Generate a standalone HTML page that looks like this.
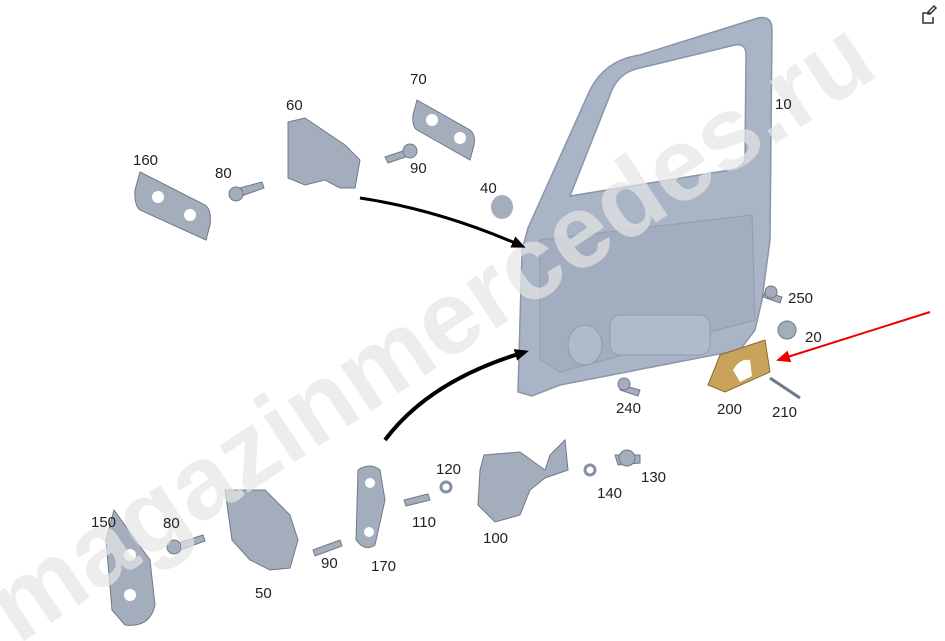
<!DOCTYPE html>
<html><head><meta charset="utf-8"><style>
html,body{margin:0;padding:0;background:#fff;}
svg{display:block}
text{font-family:"Liberation Sans",sans-serif;}
</style></head><body>
<svg width="945" height="641" viewBox="0 0 945 641" xmlns="http://www.w3.org/2000/svg">
<defs>
<marker id="ab" markerWidth="14" markerHeight="12" refX="10" refY="6" orient="auto" markerUnits="userSpaceOnUse"><path d="M0,0 L14,6 L0,12 z" fill="#000"/></marker>
<marker id="ar" markerWidth="14" markerHeight="12" refX="12" refY="6" orient="auto" markerUnits="userSpaceOnUse"><path d="M0,0 L14,6 L0,12 z" fill="#e00"/></marker>
</defs>
<path d="M518,392 L522,250 L528,228 L590,90 Q605,60 640,55 L758,18 Q772,15 772,30 L770,240 L762,300 L755,330 L740,350 L560,385 L532,396 Z" fill="#a9b5c6" stroke="#8a96a8" stroke-width="1.5"/>
<path d="M570,196 L612,90 Q620,72 640,68 L735,45 Q746,43 746,55 L745,160 Q742,168 730,170 Z" fill="#fff" stroke="#8a96a8" stroke-width="1.5"/>
<path d="M540,240 L752,215 L755,320 L560,372 L540,360 Z" fill="#a2aebf" stroke="#909caf"/>
<ellipse cx="585" cy="345" rx="17" ry="20" fill="#afbacb" stroke="#909caf"/>
<rect x="610" y="315" width="100" height="40" rx="10" fill="#afbacb" stroke="#909caf"/>
<path d="M140,172 L205,205 Q212,210 210,225 L206,240 L140,210 Q134,205 135,190 Z" fill="#a3adbc" stroke="#6f7989"/>
<circle cx="158" cy="197" r="6" fill="#fff"/><circle cx="190" cy="215" r="6" fill="#fff"/>
<path d="M417,100 L470,130 Q476,135 474,145 L470,160 L417,130 Q412,127 413,115 Z" fill="#a3adbc" stroke="#6f7989"/>
<circle cx="432" cy="120" r="6" fill="#fff"/><circle cx="460" cy="138" r="6" fill="#fff"/>
<path d="M288,122 L305,118 L345,145 L360,160 L355,188 L340,188 L325,180 L305,185 L288,178 Z" fill="#a3adbc" stroke="#6f7989"/>
<path d="M232,190 L262,182 L264,188 L236,198 Z" fill="#a3adbc" stroke="#6f7989"/><circle cx="236" cy="194" r="7" fill="#a3adbc" stroke="#6f7989"/>
<path d="M385,157 L412,148 L414,154 L388,163 Z" fill="#a3adbc" stroke="#6f7989"/><circle cx="410" cy="151" r="7" fill="#a3adbc" stroke="#6f7989"/>
<ellipse cx="502" cy="207" rx="11" ry="12" fill="#a3adbc"/>
<path d="M765,292 L782,297 L780,303 L763,297 Z" fill="#a3adbc" stroke="#6f7989"/><circle cx="771" cy="292" r="6" fill="#a3adbc" stroke="#6f7989"/>
<circle cx="787" cy="330" r="9" fill="#a3adbc" stroke="#6f7989"/>
<path d="M622,385 L640,390 L638,396 L620,390 Z" fill="#a3adbc" stroke="#6f7989"/><circle cx="624" cy="384" r="6" fill="#a3adbc" stroke="#6f7989"/>
<path d="M720,355 L765,340 L770,372 L725,392 L708,385 Z" fill="#c9a35a" stroke="#8a6a30"/>
<path d="M733,370 Q740,358 750,360 L752,376 L740,382 Z" fill="#fff"/>
<path d="M770,378 L800,398" stroke="#6f7989" stroke-width="3"/>
<path d="M114,510 L150,560 L155,605 Q150,628 125,625 L112,610 L106,540 Z" fill="#a3adbc" stroke="#6f7989"/>
<circle cx="130" cy="555" r="6" fill="#fff"/><circle cx="130" cy="595" r="6" fill="#fff"/>
<path d="M225,490 L265,490 L290,515 L298,540 L290,568 L270,570 L250,560 L232,540 Z" fill="#a3adbc" stroke="#6f7989"/>
<path d="M172,545 L203,535 L205,541 L175,552 Z" fill="#a3adbc" stroke="#6f7989"/><circle cx="174" cy="547" r="7" fill="#a3adbc" stroke="#6f7989"/>
<path d="M313,550 L340,540 L342,546 L315,556 Z" fill="#a3adbc" stroke="#6f7989"/>
<path d="M358,470 Q370,462 380,470 L385,500 L375,545 Q365,552 356,540 Z" fill="#a3adbc" stroke="#6f7989"/>
<circle cx="370" cy="483" r="5" fill="#fff"/><circle cx="369" cy="532" r="5" fill="#fff"/>
<path d="M404,500 L428,494 L430,500 L406,506 Z" fill="#a3adbc" stroke="#6f7989"/>
<circle cx="446" cy="487" r="5" fill="none" stroke="#8590a0" stroke-width="3"/>
<path d="M484,455 L520,452 L545,470 L550,455 L565,440 L568,470 L545,478 L530,490 L520,515 L495,522 L478,505 L480,470 Z" fill="#a3adbc" stroke="#6f7989"/>
<circle cx="590" cy="470" r="5" fill="none" stroke="#8590a0" stroke-width="3"/>
<path d="M615,455 L640,455 L640,463 L618,465 Z" fill="#a3adbc" stroke="#6f7989"/><circle cx="627" cy="458" r="8" fill="#a3adbc" stroke="#6f7989"/>
<text x="0" y="0" font-size="104" font-weight="bold" fill="#e6e6e6" fill-opacity="0.7" transform="translate(18,645) rotate(-33.5)">magazinmercedes.ru</text>
<path d="M360,198 Q440,210 522,246" stroke="#000" stroke-width="3" fill="none" marker-end="url(#ab)"/>
<path d="M385,440 Q430,380 525,352" stroke="#000" stroke-width="4" fill="none" marker-end="url(#ab)"/>
<path d="M930,312 L778,360" stroke="#e00" stroke-width="2" fill="none" marker-end="url(#ar)"/>
<g font-size="15" fill="#222">
<text x="775" y="109">10</text>
<text x="286" y="110">60</text>
<text x="410" y="84">70</text>
<text x="133" y="165">160</text>
<text x="215" y="178">80</text>
<text x="410" y="173">90</text>
<text x="480" y="193">40</text>
<text x="788" y="303">250</text>
<text x="805" y="342">20</text>
<text x="616" y="413">240</text>
<text x="717" y="414">200</text>
<text x="772" y="417">210</text>
<text x="436" y="474">120</text>
<text x="641" y="482">130</text>
<text x="597" y="498">140</text>
<text x="412" y="527">110</text>
<text x="483" y="543">100</text>
<text x="91" y="527">150</text>
<text x="163" y="528">80</text>
<text x="321" y="568">90</text>
<text x="371" y="571">170</text>
<text x="255" y="598">50</text>
</g>
<path d="M931,13 h-8 v10 h10 v-6 M934,6 l-6,6 v2 h2 l6,-6 z" stroke="#333" stroke-width="1.5" fill="none"/>
</svg>
</body></html>
